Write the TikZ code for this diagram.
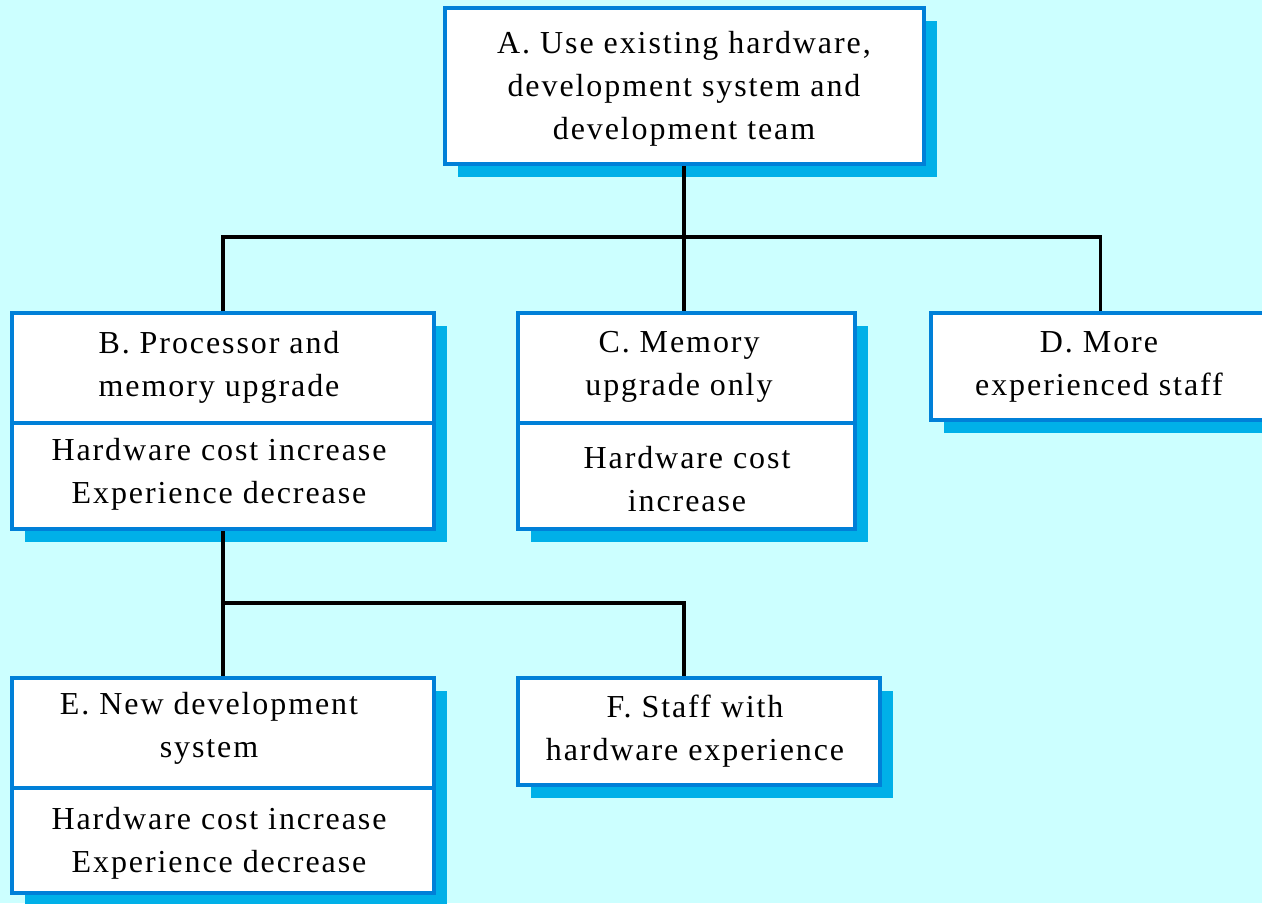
\documentclass[tikz,border=0pt]{standalone}
\usepackage{fontspec}
\setmainfont{Liberation Serif}[LetterSpace=6]
\usetikzlibrary{shadows}
\definecolor{bgcyan}{HTML}{CCFFFF}
\definecolor{bordblue}{HTML}{0080D8}
\definecolor{shadblue}{HTML}{00B0E8}
\begin{document}
\begin{tikzpicture}[x=1pt,y=-1pt,
  box/.style={draw=bordblue, line width=4pt, fill=white, inner sep=0pt,
    drop shadow={shadow xshift=13pt, shadow yshift=-13pt, fill=shadblue, opacity=1}},
  txt/.style={align=center, font=\fontsize{32}{43}\selectfont, inner sep=0pt},
  divider/.style={draw=bordblue, line width=4pt},
  conn/.style={line width=3.5pt, draw=black}]
\useasboundingbox (0,0) rectangle (1262,903);
\clip (0,0) rectangle (1262,903);
\fill[bgcyan] (0,0) rectangle (1262,903);

% boxes
\node[box, minimum width=479pt, minimum height=156pt] (A) at (684,86) {};
\node[box, minimum width=422pt, minimum height=216pt] (B) at (223,421) {};
\node[box, minimum width=337pt, minimum height=216pt] (C) at (686.5,421) {};
\node[box, minimum width=339pt, minimum height=107pt] (D) at (1100.5,366.5) {};
\node[box, minimum width=422pt, minimum height=215pt] (E) at (223,785.5) {};
\node[box, minimum width=362pt, minimum height=107pt] (F) at (699,731.5) {};

% dividers
\draw[divider] (B.west |- 0,423) -- (B.east |- 0,423);
\draw[divider] (C.west |- 0,423) -- (C.east |- 0,423);
\draw[divider] (E.west |- 0,788) -- (E.east |- 0,788);

% texts
\node[txt] (At) at (684,89) {A. Use existing hardware,\\development system and\\development team};
\node[txt] (Bt) at (219,367) {B. Processor and\\memory upgrade};
\node[txt] (Bb) at (219,474) {Hardware cost increase\\Experience decrease};
\node[txt] (Ct) at (679,367) {C. Memory\\upgrade only};
\node[txt] (Cb) at (687,479.5) {Hardware cost\\increase};
\node[txt] (Dt) at (1099,367) {D. More\\experienced staff};
\node[txt] (Et) at (209,728.5) {E. New development\\system};
\node[txt] (Eb) at (219,843.5) {Hardware cost increase\\Experience decrease};
\node[txt] (Ft) at (695,731) {F. Staff with\\hardware experience};

% connectors
\coordinate (busA) at (684,237);
\coordinate (busB) at (223,603);
\coordinate (busF) at (684,603);
\draw[conn] (A.south) -- (busA);
\draw[conn] (B.north) |- (busA) -| (D.north);
\draw[conn] (busA) -- (busA |- C.north);
\draw[conn] (B.south) -- (E.north);
\draw[conn] (busB) -- (busF) -- (busF |- F.north);
\end{tikzpicture}
\end{document}
